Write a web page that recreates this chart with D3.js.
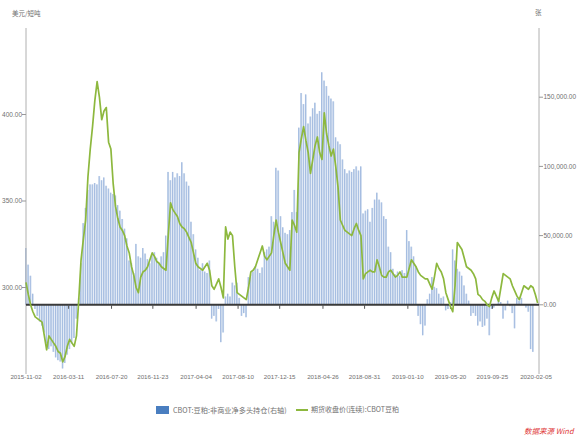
<!DOCTYPE html>
<html><head><meta charset="utf-8">
<script src="https://cdn.jsdelivr.net/npm/d3@7"></script>
<style>body{margin:0;background:#fff}svg{display:block}text{font-family:"Liberation Sans","Noto Sans CJK SC",sans-serif}.cjk{font-family:"Noto Sans CJK SC","Liberation Sans",sans-serif}</style>
</head><body>
<svg id="c" width="577" height="437"></svg>
<script>
// ---- data ----
const startDate = "2015-11-02";
const endDate = "2020-02-05";
const xTickLabels = ["2015-11-02","2016-03-11","2016-07-20","2016-11-23","2017-04-04","2017-08-10","2017-12-15","2018-04-26","2018-08-31","2019-01-10","2019-05-20","2019-09-25","2020-02-05"];
const leftTicks = [300, 350, 400];
const rightTicks = [0, 50000, 100000, 150000];
const leftUnit = "美元/短吨";
const rightUnit = "张";
const barName = "CBOT:豆粕:非商业净多头持仓(右轴)";
const lineName = "期货收盘价(连续):CBOT豆粕";
// weekly close price (USD/short ton)
const price = [303,296,290,286,283,282,281,280,272,264,272,270,268,266,263,262,257,260,266,270,268,266,272,293,316,328,339,364,380,393,
408,419,410,397,402,404,384,380,360,347,340,335,333,330,324,320,312,307,300,297,306,309,310,312,316,320,318,315,314,312,
311,310,330,349,345,343,341,337,335,334,332,329,326,320,314,312,311,310,312,314,310,301,299,302,305,300,294,335,328,332,
330,312,297,296,295,294,293,300,309,310,312,316,320,324,318,316,318,320,330,339,332,326,320,314,312,310,339,336,332,378,
386,393,385,378,366,374,382,387,378,374,401,389,382,376,380,370,358,339,336,333,332,331,330,334,337,333,330,305,308,309,
310,309,309,316,312,307,306,306,309,310,308,306,307,309,306,306,306,311,316,314,312,309,307,306,305,305,302,299,306,314,
311,309,305,297,293,289,286,301,326,324,322,317,312,311,310,308,305,296,295,293,292,290,289,294,298,295,292,300,308,307,
306,305,301,298,295,293,297,301,300,299,301,300,296,291];
// weekly non-commercial net long (contracts, thousands)
const netLongK = [41,29,21,8,-3,-8,-12,-15,-20,-28,-32,-30,-34,-38,-40,-41,-46,-42,-36,-32,-28,-24,-10,5,30,59,70,83,87,87,
88,87,93,90,92,86,84,81,80,79,72,68,62,55,48,32,30,23,44,35,34,41,37,33,30,36,38,34,30,35,
38,50,96,90,96,92,95,93,103,95,89,86,60,51,40,34,25,30,24,23,32,-10,-8,-12,-3,-27,-20,6,8,6,
16,14,16,5,-8,-6,-9,20,22,24,28,26,23,27,38,40,42,64,60,99,97,64,56,52,51,54,67,83,67,128,
153,145,152,131,136,142,146,138,140,168,162,158,151,149,147,121,118,116,105,98,95,97,96,98,100,97,100,66,68,69,
60,70,76,81,76,74,64,62,42,38,26,22,24,21,25,23,54,46,42,35,28,-8,-14,-22,-15,4,8,20,13,12,
8,5,6,-4,-3,2,40,32,26,24,21,14,8,3,-8,-6,-8,-15,-12,-16,-15,-10,-22,-3,-2,0,4,2,-10,-4,
3,-1,-6,-17,5,3,5,0,-2,-5,-32,-34];

// ---- chart ----
(function () {
const svg = d3.select("#c");
const parse = d3.timeParse("%Y-%m-%d");
const t0 = parse(startDate), t1 = parse(endDate);
const dates = price.map((_, i) => d3.timeDay.offset(t0, 7 * i));
const pL = 26, pR = 539, pT = 28, pB = 374;
const x = d3.scaleTime().domain([t0, t1]).range([pL, 536]);
const yL = d3.scaleLinear().domain([250, 450]).range([pB, pT]);
const yR = d3.scaleLinear().domain([-50000, 200000]).range([pB, pT]);
const grey = "#707070";

// bars
const bw = 1.5;
svg.append("g").selectAll("rect").data(netLongK).join("rect")
  .attr("x", (d, i) => x(dates[i]) - bw / 2)
  .attr("width", bw)
  .attr("y", d => Math.min(yR(d * 1000), yR(0)))
  .attr("height", d => Math.abs(yR(d * 1000) - yR(0)))
  .attr("fill", "#c2d3ea");
svg.append("g").selectAll("line").data(netLongK).join("line")
  .attr("x1", (d, i) => x(dates[i]) - bw / 2 + 0.3)
  .attr("x2", (d, i) => x(dates[i]) - bw / 2 + 0.3)
  .attr("y1", yR(0)).attr("y2", d => yR(d * 1000))
  .attr("stroke", "#8aa8d8").attr("stroke-width", 0.6);

// axes lines
svg.append("line").attr("x1", pL).attr("x2", pL).attr("y1", pT).attr("y2", pB).attr("stroke", "#b0b0b0");
svg.append("line").attr("x1", pR).attr("x2", pR).attr("y1", pT).attr("y2", pB).attr("stroke", "#b0b0b0");

// left ticks
const gL = svg.append("g");
leftTicks.forEach(v => {
  gL.append("line").attr("x1", pL - 4).attr("x2", pL).attr("y1", yL(v)).attr("y2", yL(v)).attr("stroke", "#999");
  gL.append("text").attr("x", pL - 4).attr("y", yL(v)).attr("dy", "0.35em").attr("text-anchor", "end")
    .attr("font-size", 6.5).attr("fill", grey).text(d3.format(".2f")(v));
});
// right ticks
const gR = svg.append("g");
rightTicks.forEach(v => {
  gR.append("line").attr("x1", pR).attr("x2", pR + 4).attr("y1", yR(v)).attr("y2", yR(v)).attr("stroke", "#999");
  gR.append("text").attr("x", pR + 4.5).attr("y", yR(v)).attr("dy", "0.35em").attr("text-anchor", "start")
    .attr("font-size", 6.5).attr("fill", grey).text(d3.format(",.2f")(v));
});

// zero line and x ticks
svg.append("line").attr("x1", pL).attr("x2", pR).attr("y1", yR(0)).attr("y2", yR(0)).attr("stroke", "#3a3a3a").attr("stroke-width", 2);
const gX = svg.append("g");
xTickLabels.forEach((s, i) => {
  const xx = x(parse(s));
  if (i > 0 && i < xTickLabels.length - 1)
    gX.append("line").attr("x1", xx).attr("x2", xx).attr("y1", yR(0)).attr("y2", yR(0) + 4).attr("stroke", "#555");
  gX.append("text").attr("x", xx).attr("y", 377).attr("dy", "0.35em").attr("text-anchor", "middle")
    .attr("font-size", 6.2).attr("fill", grey).text(s);
});

// price line
svg.append("path").datum(price)
  .attr("d", d3.line().x((d, i) => x(dates[i])).y(d => yL(d)))
  .attr("fill", "none").attr("stroke", "#8db83e").attr("stroke-width", 1.7).attr("stroke-linejoin", "round");

// units
svg.append("text").attr("class", "cjk").attr("x", 12).attr("y", 16).attr("font-size", 6.5).attr("fill", grey).text(leftUnit);
svg.append("text").attr("class", "cjk").attr("x", 535).attr("y", 15).attr("font-size", 6.5).attr("fill", grey).text(rightUnit);

// legend
const lg = svg.append("g");
lg.append("rect").attr("x", 156).attr("y", 406).attr("width", 13).attr("height", 8).attr("fill", "#4a7ec0");
lg.append("text").attr("class", "cjk").attr("x", 173).attr("y", 410).attr("dy", "0.35em").attr("font-size", 7.2).attr("fill", grey).text(barName);
lg.append("line").attr("x1", 296).attr("x2", 308).attr("y1", 410).attr("y2", 410).attr("stroke", "#8db83e").attr("stroke-width", 2);
lg.append("text").attr("class", "cjk").attr("x", 311).attr("y", 410).attr("dy", "0.35em").attr("font-size", 7).attr("fill", grey).text(lineName);

// source
svg.append("text").attr("class", "cjk").attr("x", 524).attr("y", 431).attr("dy", "0.35em").attr("font-size", 7.5).attr("font-style", "italic")
  .attr("fill", "#e03a3a").text("数据来源 Wind");
})();
</script>
</body></html>
